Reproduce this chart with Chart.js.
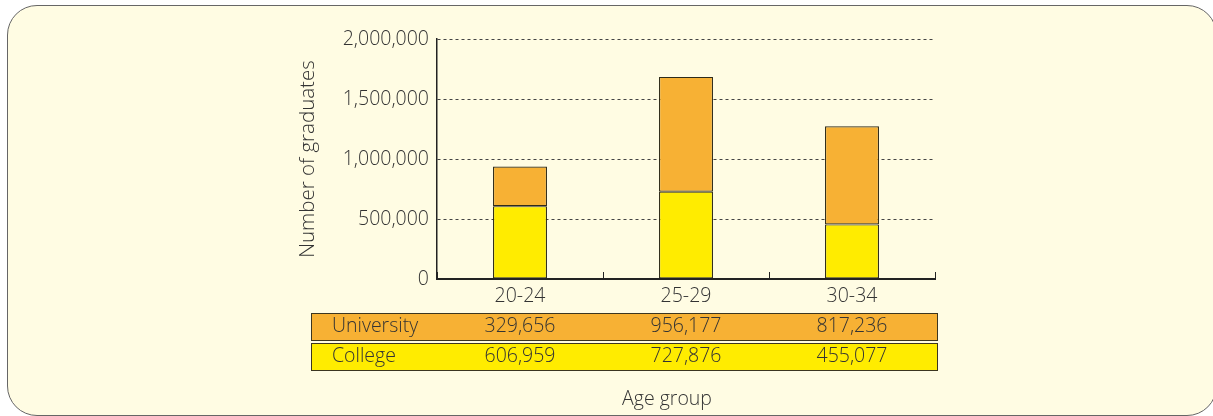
<!DOCTYPE html>
<html>
<head>
<meta charset="utf-8">
<script src="https://cdn.jsdelivr.net/npm/chart.js@4.4.0/dist/chart.umd.min.js"></script>
<style>
  html, body { margin: 0; padding: 0; background: #fff; overflow: hidden; }
  #panel {
    position: absolute; left: 7px; top: 5px;
    width: 1208px; height: 409px;
    background: #fffce3;
    border: 1px solid #666;
    border-radius: 30px;
  }
  #wrap { position: absolute; left: 0; top: 0; width: 1213px; height: 416px; }
</style>
</head>
<body>
<div id="panel"></div>
<div id="wrap"><canvas id="gradChart" width="1213" height="416"></canvas></div>
<script>
var ageGroups = ['20-24', '25-29', '30-34'];
var university = [329656, 956177, 817236];
var college = [606959, 727876, 455077];
var yTicks = [0, 500000, 1000000, 1500000, 2000000];

var textColor = '#333';
var fontFamily = '"Open Sans", "Noto Sans", sans-serif';

function fmt(v){
    return v.toLocaleString('en-US');
}

// data table under the x axis + the axis title
var tablePlugin = {
    id: 'table',
    afterDraw: function(chart){
        var ctx = chart.ctx;
        var x = chart.scales.x;
        var rows = [
            {label: 'University', values: university, color: '#f7b134', top: 313},
            {label: 'College', values: college, color: '#ffec00', top: 343}
        ];
        ctx.save();
        ctx.font = '300 19.5px ' + fontFamily;
        ctx.textBaseline = 'middle';
        rows.forEach(function(row){
            ctx.fillStyle = row.color;
            ctx.fillRect(311, row.top, 626, 27);
            ctx.strokeStyle = '#3b3520';
            ctx.lineWidth = 1;
            ctx.strokeRect(311.5, row.top + 0.5, 626, 27);
            ctx.fillStyle = textColor;
            ctx.textAlign = 'left';
            ctx.fillText(row.label, 332, row.top + 13);
            ctx.textAlign = 'center';
            row.values.forEach(function(v, i){
                ctx.fillText(fmt(v), x.getPixelForValue(i), row.top + 13);
            });
        });
        ctx.textAlign = 'center';
        ctx.fillText('Age group', 667, 399);
        ctx.restore();
    }
};

function get_grad_chart(){
    var ctx = document.getElementById('gradChart');
    var chart = new Chart(ctx, {
        type: 'bar',
        data: {
            labels: ageGroups,
            datasets: [
                {
                    label: 'College',
                    data: college,
                    backgroundColor: '#ffec00',
                    borderColor: '#2e2a18',
                    borderWidth: 1.2,
                    borderSkipped: false
                },
                {
                    label: 'University',
                    data: university,
                    backgroundColor: '#f7b134',
                    borderColor: '#2e2a18',
                    borderWidth: 1.2,
                    borderSkipped: false
                }
            ]
        },
        options: {
            responsive: false,
            animation: false,
            devicePixelRatio: 1,
            layout: {padding: {left: 290, right: 278, top: 39, bottom: 0}},
            plugins: {
                legend: {display: false},
                tooltip: {enabled: false}
            },
            datasets: {
                bar: {categoryPercentage: 1, barPercentage: 0.325}
            },
            scales: {
                x: {
                    stacked: true,
                    grid: {
                        offset: true,
                        drawOnChartArea: false,
                        tickLength: -7,
                        tickColor: '#222',
                        tickWidth: 1
                    },
                    border: {display: true, color: '#222', width: 2, z: 1},
                    ticks: {
                        color: textColor,
                        font: {family: fontFamily, size: 19.5, weight: 300},
                        padding: 13
                    },
                    afterFit: function(scale){ scale.height = 137; }
                },
                y: {
                    stacked: true,
                    min: 0,
                    max: 2000000,
                    afterBuildTicks: function(scale){
                        scale.ticks = yTicks.map(function(v){ return {value: v}; });
                    },
                    grid: {
                        color: function(c){ return c.tick && c.tick.value === 0 ? 'rgba(0,0,0,0)' : '#444'; },
                        lineWidth: 1,
                        drawTicks: false
                    },
                    border: {display: true, color: '#222', width: 1.5, dash: [3, 3]},
                    ticks: {
                        color: textColor,
                        font: {family: fontFamily, size: 19.5, weight: 300},
                        padding: 8,
                        callback: function(v){ return fmt(v); }
                    },
                    title: {
                        display: true,
                        text: 'Number of graduates',
                        color: textColor,
                        font: {family: fontFamily, size: 20.5, weight: 300},
                        padding: {top: 6, bottom: 0}
                    },
                    afterFit: function(scale){ scale.width = 147; }
                }
            }
        },
        plugins: [tablePlugin]
    });
    return chart;
}

window.onload = function(){
    get_grad_chart();
}
</script>
</body>
</html>
